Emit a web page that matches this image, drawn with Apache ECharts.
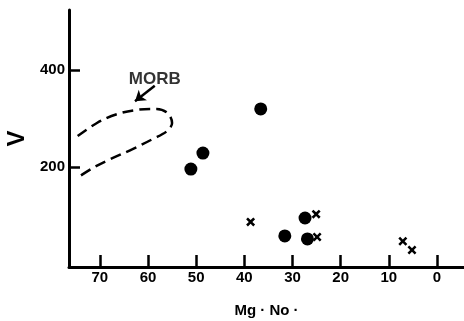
<!DOCTYPE html>
<html>
<head>
<meta charset="utf-8">
<script src="https://cdn.jsdelivr.net/npm/echarts@6/dist/echarts.min.js"></script>
<style>
  html, body { margin: 0; padding: 0; background: #fff; }
  #chart { width: 464px; height: 321px; }
</style>
</head>
<body>
<div id="chart"></div>
<script>
// tick values
const xTicks = [70, 60, 50, 40, 30, 20, 10, 0]
const yTicks = [200, 400]

// sample points [Mg No, V]
const dots = [[51.1, 196], [48.6, 229], [36.6, 320], [31.6, 58], [27.4, 95], [26.9, 52]]
const crosses = [[38.7, 87], [25.1, 103], [24.9, 56], [7.1, 47], [5.2, 29]]

// MORB field outline
const morbField = [
  [74.6, 264], [70.6, 291], [66.5, 309], [62.3, 318], [58.2, 320], [55.9, 311], [55.0, 291],
  [56.1, 274], [59.0, 258], [63.2, 237], [67.9, 216], [71.5, 198], [74.2, 181]
]
const morbLabel = [[58.6, 382]]
const morbArrow = [[58.6, 368], [62.7, 336]]

// bold "x" marker
const crossPath = "path://M0,2L2,0L5,3L8,0L10,2L7,5L10,8L8,10L5,7L2,10L0,8L3,5Z"
const font = "Liberation Sans"

const myChart = echarts.init(document.getElementById("chart"))

const option = {
  animation: false,
  grid: { left: 69, right: 0, top: 10, bottom: 54, outerBoundsMode: "none" },
  xAxis: {
    type: "value",
    inverse: true,
    min: -5.6,
    max: 76.4,
    name: "Mg · No ·",
    nameLocation: "middle",
    nameGap: 36,
    nameTextStyle: { color: "#000", fontFamily: font, fontWeight: "bold", fontSize: 15 },
    axisLine: { onZero: false, lineStyle: { color: "#000", width: 3 } },
    axisTick: { show: true, inside: true, length: 12, customValues: xTicks, lineStyle: { color: "#000", width: 2.5 } },
    axisLabel: {
      customValues: xTicks,
      margin: 3,
      color: "#000",
      fontFamily: font,
      fontWeight: "bold",
      fontSize: 15
    },
    splitLine: { show: false }
  },
  yAxis: {
    type: "value",
    min: -6,
    max: 524,
    name: "V",
    nameLocation: "middle",
    nameRotate: 90,
    nameGap: 32,
    nameTextStyle: { color: "#000", fontFamily: font, fontWeight: "bold", fontSize: 24 },
    axisLine: { onZero: false, lineStyle: { color: "#000", width: 3 } },
    axisTick: { show: true, inside: true, length: 11, customValues: yTicks, lineStyle: { color: "#000", width: 2.5 } },
    axisLabel: {
      customValues: yTicks,
      margin: 4,
      color: "#000",
      fontFamily: font,
      fontWeight: "bold",
      fontSize: 15
    },
    splitLine: { show: false }
  },
  series: [
    {
      name: "MORB",
      type: "line",
      smooth: 0.35,
      symbol: "none",
      data: morbField,
      lineStyle: { color: "#000", width: 2.5, type: [11, 6] },
      markLine: {
        silent: true,
        symbol: ["none", "arrow"],
        symbolSize: 10,
        label: { show: false },
        lineStyle: { color: "#000", width: 2.5, type: "solid" },
        data: [[{ coord: morbArrow[0] }, { coord: morbArrow[1] }]]
      }
    },
    {
      type: "scatter",
      data: morbLabel,
      symbolSize: 1,
      itemStyle: { color: "transparent" },
      label: {
        show: true,
        position: "inside",
        formatter: "MORB",
        color: "#000",
        fontFamily: font,
        fontWeight: "bold",
        fontSize: 17
      }
    },
    {
      type: "scatter",
      data: dots,
      symbol: "circle",
      symbolSize: 13,
      itemStyle: { color: "#000", opacity: 1 }
    },
    {
      type: "scatter",
      data: crosses,
      symbol: crossPath,
      symbolSize: 9,
      itemStyle: { color: "#000", opacity: 1 }
    }
  ]
}
myChart.setOption(option, true)
</script>
</body>
</html>
